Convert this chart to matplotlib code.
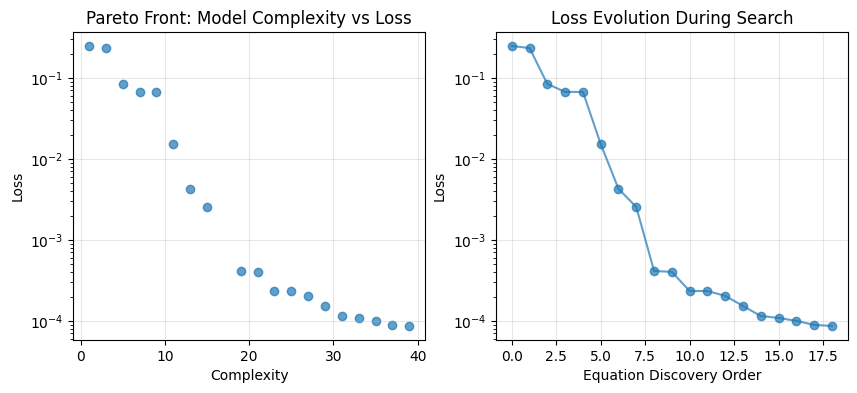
import numpy as np
import matplotlib
matplotlib.use('Agg')
import matplotlib.pyplot as plt

# Pareto front data
complexity = [1, 3, 5, 7, 9, 11, 13, 15, 19, 21, 23, 25, 27, 29, 31, 33, 35, 37, 39]
loss = [0.248, 0.234, 0.0844, 0.0672, 0.0672, 0.0153, 0.00427, 0.00255,
        4.14e-4, 4.03e-4, 2.34e-4, 2.34e-4, 2.04e-4, 1.53e-4, 1.15e-4,
        1.09e-4, 1.00e-4, 8.93e-5, 8.67e-5]
order = np.arange(len(loss))

fig, (ax1, ax2) = plt.subplots(1, 2, figsize=(8.57, 3.93), dpi=100)
fig.subplots_adjust(left=0.0852, right=0.9895, bottom=0.135, top=0.9186, wspace=0.20)

# Left: complexity vs loss
ax1.scatter(complexity, loss, alpha=0.7)
ax1.set_yscale('log')
ax1.set_xlabel('Complexity')
ax1.set_ylabel('Loss')
ax1.set_title('Pareto Front: Model Complexity vs Loss')
ax1.grid(True, alpha=0.3)

# Right: loss in discovery order
ax2.plot(order, loss, 'o-', alpha=0.7)
ax2.set_yscale('log')
ax2.set_xlabel('Equation Discovery Order')
ax2.set_ylabel('Loss')
ax2.set_title('Loss Evolution During Search')
ax2.grid(True, alpha=0.3)

plt.savefig('out.png')
